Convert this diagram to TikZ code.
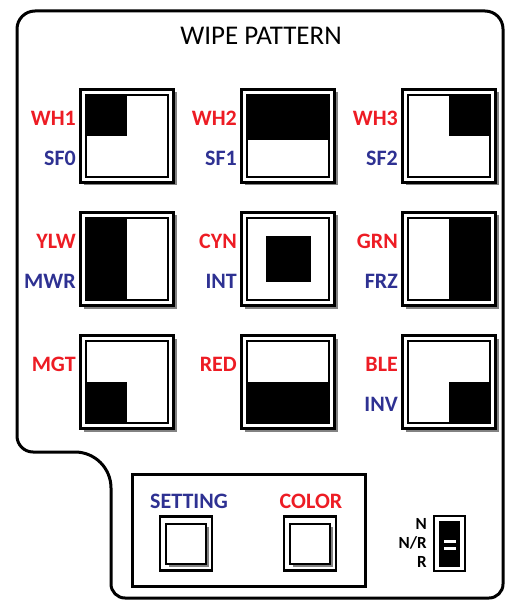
\documentclass[tikz,border=0pt]{standalone}
\usepackage{fontspec}
\setmainfont{Carlito}
\usetikzlibrary{positioning,shadows}
\definecolor{LabelRed}{RGB}{237,28,36}
\definecolor{LabelBlue}{RGB}{46,49,146}
\definecolor{ShadeGray}{RGB}{130,130,130}
\tikzset{
  patbox/.style={draw,line width=3pt,fill=white,minimum size=93pt,inner sep=0pt,
    general shadow={fill=ShadeGray,shadow xshift=3pt,shadow yshift=-3pt}},
  patinner/.style={draw,line width=2pt,minimum size=82pt,inner sep=0pt},
  redlbl/.style={text=LabelRed,font=\fontsize{22}{26}\selectfont\bfseries,
    anchor=east,inner sep=0pt},
  bluelbl/.style={text=LabelBlue,font=\fontsize{22}{26}\selectfont\bfseries,
    anchor=east,inner sep=0pt},
  btnouter/.style={draw,line width=2.5pt,fill=white,minimum width=52pt,
    minimum height=54pt,inner sep=0pt},
  btninner/.style={draw,line width=2pt,fill=white,minimum size=40pt,inner sep=0pt,
    general shadow={fill=ShadeGray,shadow xshift=3pt,shadow yshift=-3pt}}
}

\begin{document}
\begin{tikzpicture}[
  x=1pt,
  y=-1pt,
  swlbl/.style={
    font=\fontsize{17}{20}\selectfont\bfseries,
    anchor=east,
    inner sep=0pt
  },
  swbar/.style={
    fill=white,
    minimum width=12pt,
    minimum height=3pt,
    inner sep=0pt
  }
]
\useasboundingbox (0,0) rectangle (509,601);

% Panel outline
\draw[line width=3pt,rounded corners=18pt]
  (17,240) -- (17,11) -- (503,11) [rounded corners=14pt] -- (503,598)
  -- (111,598) [rounded corners=36pt] -- (111,452) [rounded corners=16pt]
  -- (17,452) -- cycle;

\node[font=\fontsize{27}{32}\selectfont] (title) at (261,36) {WIPE PATTERN};

% Row 1
\node[patbox] (wh1) at (127,136) {};
\node[patinner] (wh1in) at (wh1) {};
\fill (wh1in.north west) rectangle (wh1in.center);
\node[patbox] (wh2) at (288,136) {};
\node[patinner] (wh2in) at (wh2) {};
\fill (wh2in.north west) rectangle ([yshift=-4pt]wh2in.east);
\node[patbox] (wh3) at (449,136) {};
\node[patinner] (wh3in) at (wh3) {};
\fill (wh3in.north) rectangle (wh3in.east);

\node[redlbl] (lwh1) at (76,118) {WH1};
\node[bluelbl] (lsf0) at (76,158) {SF0};
\node[redlbl] (lwh2) at (237,118) {WH2};
\node[bluelbl] (lsf1) at (237,158) {SF1};
\node[redlbl] (lwh3) at (398,118) {WH3};
\node[bluelbl] (lsf2) at (398,158) {SF2};

% Row 2
\node[patbox] (ylw) at (127,259) {};
\node[patinner] (ylwin) at (ylw) {};
\fill (ylwin.north west) rectangle (ylwin.south);
\node[patbox] (cyn) at (288,259) {};
\node[patinner] (cynin) at (cyn) {};
\node[fill,minimum size=45pt,inner sep=0pt] (cynsq) at (cynin) {};
\node[patbox] (grn) at (449,259) {};
\node[patinner] (grnin) at (grn) {};
\fill (grnin.north) rectangle (grnin.south east);

\node[redlbl] (lylw) at (76,241) {YLW};
\node[bluelbl] (lmwr) at (76,281) {MWR};
\node[redlbl] (lcyn) at (237,241) {CYN};
\node[bluelbl] (lint) at (237,281) {INT};
\node[redlbl] (lgrn) at (398,241) {GRN};
\node[bluelbl] (lfrz) at (398,281) {FRZ};

% Row 3
\node[patbox] (mgt) at (127,382) {};
\node[patinner] (mgtin) at (mgt) {};
\fill (mgtin.west) rectangle (mgtin.south);
\node[patbox] (red) at (288,382) {};
\node[patinner] (redin) at (red) {};
\fill (redin.west) rectangle (redin.south east);
\node[patbox] (ble) at (449,382) {};
\node[patinner] (blein) at (ble) {};
\fill (blein.center) rectangle (blein.south east);

\node[redlbl] (lmgt) at (76,364) {MGT};
\node[redlbl] (lred) at (237,364) {RED};
\node[redlbl] (lble) at (398,364) {BLE};
\node[bluelbl] (linv) at (398,404) {INV};

% Buttons
\draw[line width=3pt] (132,474) rectangle (365,586);
\node[bluelbl,anchor=center] (lset) at (189,501) {SETTING};
\node[redlbl,anchor=center] (lcol) at (311,501) {COLOR};
\node[btnouter] (setbtn) at (186,543.5) {};
\node[btninner] (setin) at (setbtn) {};
\node[btnouter] (colbtn) at (310,543.5) {};
\node[btninner] (colin) at (colbtn) {};

% Switch
\node[draw,line width=2.5pt,minimum width=31pt,minimum height=55pt,
  inner sep=0pt] (sw) at (449.5,543.5) {};
\node[fill,minimum width=21pt,minimum height=46pt,inner sep=0pt]
  (swslot) at (sw) {};
\node[swbar] (swbar1) at (449.5,541.5) {};
\node[swbar] (swbar2) at (449.5,548.5) {};
\node[swlbl] (ln) at (427,524) {N};
\node[swlbl] (lnr) at (427,543) {N/R};
\node[swlbl] (lr) at (427,562) {R};

\end{tikzpicture}
\end{document}
